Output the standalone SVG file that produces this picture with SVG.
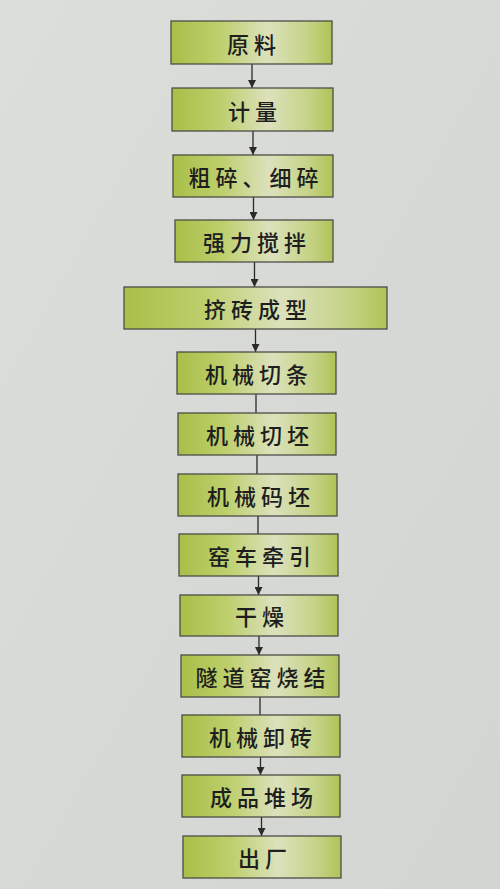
<svg xmlns="http://www.w3.org/2000/svg" width="500" height="889" viewBox="0 0 500 889">
<defs>
<linearGradient id="bg" x1="0" y1="0" x2="1" y2="1">
<stop offset="0" stop-color="#dcdeda"/>
<stop offset="0.5" stop-color="#d6d9d5"/>
<stop offset="1" stop-color="#d2d5d1"/>
</linearGradient>
<linearGradient id="box" x1="0" y1="0" x2="1" y2="0">
<stop offset="0" stop-color="#a8bf48"/>
<stop offset="0.3" stop-color="#bdcf6c"/>
<stop offset="0.6" stop-color="#dce1bc"/>
<stop offset="0.85" stop-color="#c5d386"/>
<stop offset="1" stop-color="#afc358"/>
</linearGradient>
<marker id="ah" viewBox="0 0 10 10" refX="10" refY="5" markerWidth="8" markerHeight="8" markerUnits="userSpaceOnUse" orient="auto">
<path d="M0,0 L10,5 L0,10 z" fill="#2a2a2a"/>
</marker>
<style>
.b{fill:url(#box);stroke:#4d4d45;stroke-width:1.3}
.t{font-family:"Noto Sans CJK SC","Noto Sans CJK JP",sans-serif;font-size:22px;font-weight:500;fill:#1e1e1e;text-anchor:middle;dominant-baseline:central;letter-spacing:5px}
.c{stroke:#2a2a2a;stroke-width:1.3;fill:none}
</style>
</defs>
<rect width="500" height="889" fill="url(#bg)"/>
<g id="connectors">
<line class="c" x1="252" y1="64" x2="252" y2="88" marker-end="url(#ah)"/>
<line class="c" x1="253" y1="131" x2="253" y2="155" marker-end="url(#ah)"/>
<line class="c" x1="253.5" y1="197" x2="253.5" y2="220" marker-end="url(#ah)"/>
<line class="c" x1="254.5" y1="262" x2="254.5" y2="287" marker-end="url(#ah)"/>
<line class="c" x1="255.5" y1="329" x2="255.5" y2="352" marker-end="url(#ah)"/>
<line class="c" x1="256" y1="394" x2="256" y2="413"/>
<line class="c" x1="257" y1="455" x2="257" y2="474"/>
<line class="c" x1="258" y1="516" x2="258" y2="534"/>
<line class="c" x1="258.5" y1="576" x2="258.5" y2="595" marker-end="url(#ah)"/>
<line class="c" x1="259" y1="636" x2="259" y2="655" marker-end="url(#ah)"/>
<line class="c" x1="260" y1="697" x2="260" y2="715"/>
<line class="c" x1="260.5" y1="757" x2="260.5" y2="775" marker-end="url(#ah)"/>
<line class="c" x1="261.5" y1="817" x2="261.5" y2="836" marker-end="url(#ah)"/>
</g>
<g id="n1"><rect class="b" x="171" y="21" width="161" height="43"/><text class="t" x="254" y="43">原料</text></g>
<g id="n2"><rect class="b" x="172" y="88" width="161" height="43"/><text class="t" x="255" y="110">计量</text></g>
<g id="n3"><rect class="b" x="173" y="155" width="160" height="42"/><text class="t" x="256" y="176">粗碎、细碎</text></g>
<g id="n4"><rect class="b" x="175" y="220" width="158" height="42"/><text class="t" x="257" y="241">强力搅拌</text></g>
<g id="n5"><rect class="b" x="124" y="287" width="263" height="42"/><text class="t" x="258" y="308">挤砖成型</text></g>
<g id="n6"><rect class="b" x="177" y="352" width="159" height="42"/><text class="t" x="259" y="373">机械切条</text></g>
<g id="n7"><rect class="b" x="178" y="413" width="158" height="42"/><text class="t" x="260" y="434">机械切坯</text></g>
<g id="n8"><rect class="b" x="178" y="474" width="159" height="42"/><text class="t" x="261" y="495">机械码坯</text></g>
<g id="n9"><rect class="b" x="179" y="534" width="159" height="42"/><text class="t" x="262" y="555">窑车牵引</text></g>
<g id="n10"><rect class="b" x="180" y="595" width="158" height="41"/><text class="t" x="262" y="615">干燥</text></g>
<g id="n11"><rect class="b" x="181" y="655" width="158" height="42"/><text class="t" x="263" y="676">隧道窑烧结</text></g>
<g id="n12"><rect class="b" x="182" y="715" width="158" height="42"/><text class="t" x="263" y="736">机械卸砖</text></g>
<g id="n13"><rect class="b" x="182" y="775" width="158" height="42"/><text class="t" x="264" y="796">成品堆场</text></g>
<g id="n14"><rect class="b" x="183" y="836" width="158" height="42"/><text class="t" x="265" y="857">出厂</text></g>
</svg>
